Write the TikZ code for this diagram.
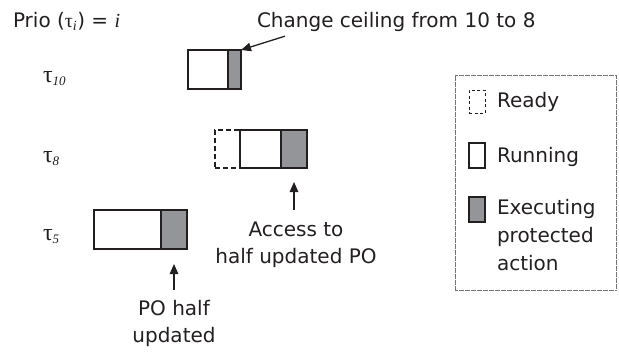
\documentclass[tikz,border=0pt]{standalone}
\usepackage{fontspec}
\setmainfont{DejaVu Sans}
\newfontfamily\grserif{Liberation Serif}
\usetikzlibrary{arrows.meta}
\definecolor{ink}{HTML}{231F20}
\definecolor{pogray}{HTML}{939598}
\begin{document}
\begin{tikzpicture}[x=1pt,y=-1pt,
  every node/.style={inner sep=0pt, outer sep=0pt, text=ink, font=\fontsize{20}{27}\selectfont},
  runbox/.style={draw=ink, line width=2.6pt, fill=white},
  protbox/.style={draw=ink, line width=2.6pt, fill=pogray},
  readybox/.style={draw=ink, line width=1.1pt, dash pattern=on 5pt off 3pt},
  legrun/.style={draw=ink, line width=2.2pt, fill=white, minimum width=16pt, minimum height=25pt},
  legprot/.style={draw=ink, line width=2.2pt, fill=pogray, minimum width=16pt, minimum height=25pt},
  legready/.style={draw=ink, line width=1pt, dash pattern=on 3pt off 2.5pt, minimum width=16pt, minimum height=23pt},
  arr/.style={draw=ink, line width=1.3pt, -{Triangle[length=10pt,width=8.5pt]}},
  tau/.style={font=\grserif\fontsize{24}{26}\selectfont},
  lbl/.style={align=center, font=\fontsize{20}{27}\selectfont},
]
\useasboundingbox (0,0) rectangle (619,354);

% title
\node[anchor=base west] (prio) at (13,27) {Prio ({\grserif τ\textsubscript{\itshape i}}) = {\grserif\itshape i}};

% task labels
\node[tau, anchor=base west] (t10) at (43,82) {τ\textsubscript{\itshape\fontsize{13}{13}\selectfont 10}};
\node[tau, anchor=base west] (t8) at (43,162) {τ\textsubscript{\itshape\fontsize{13}{13}\selectfont 8}};
\node[tau, anchor=base west] (t5) at (43,240) {τ\textsubscript{\itshape\fontsize{13}{13}\selectfont 5}};

% tau10
\node[runbox, minimum width=40pt, minimum height=39pt] (w10) at (208,69.5) {};
\node[protbox, minimum width=13pt, minimum height=39pt] (g10) at (234.5,69.5) {};

% tau8
\node[readybox, minimum width=25pt, minimum height=38pt] (r8) at (227.5,149) {};
\node[runbox, minimum width=41pt, minimum height=38pt] (w8) at (260.5,149) {};
\node[protbox, minimum width=26pt, minimum height=38pt] (g8) at (294,149) {};

% tau5
\node[runbox, minimum width=67pt, minimum height=39pt] (w5) at (127.5,229.5) {};
\node[protbox, minimum width=26pt, minimum height=39pt] (g5) at (174,229.5) {};

% annotations
\node[anchor=base west] (chg) at (257,27) {Change ceiling from 10 to 8};
\draw[arr] ([xshift=28pt,yshift=-5pt]chg.south west) -- (g10.north east);

\node[lbl, anchor=north] (lab8) at (296,222) {Access to\\half updated PO};
\draw[arr, shorten <=12pt, shorten >=14pt] (lab8.north -| g8.south) -- (g8.south);

\node[lbl, anchor=north] (lab5) at (174,300) {PO half\\updated};
\draw[arr, shorten <=10pt, shorten >=15pt] (lab5.north -| g5.south) -- (g5.south);

% legend
\node[draw=black!55, line width=1pt, dash pattern=on 0.6pt off 0.6pt, minimum width=161pt, minimum height=215pt] (legend) at (535.5,182.5) {};
\node[legready] (lr) at (477,101.5) {};
\node[anchor=base west] (lrt) at (497,107) {Ready};
\node[legrun] (lu) at (477,155.5) {};
\node[anchor=base west] (lut) at (497,162) {Running};
\node[legprot] (lp) at (477,209.5) {};
\node[anchor=north west, align=left, font=\fontsize{20}{28}\selectfont] (lpt) at (497,199) {Executing\\protected\\action};
\end{tikzpicture}
\end{document}
